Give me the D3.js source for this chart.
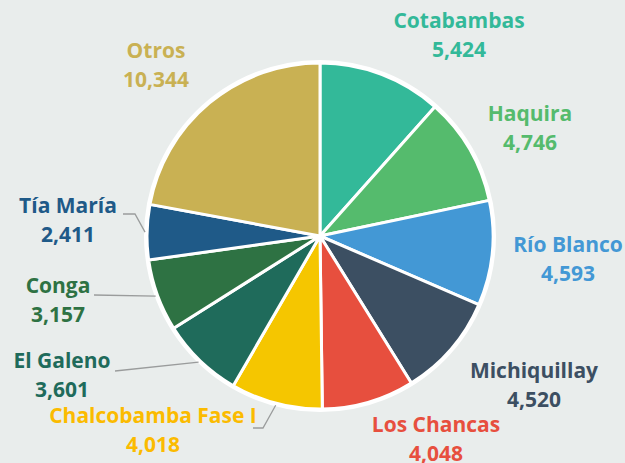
<!DOCTYPE html>
<html>
<head>
<meta charset="utf-8">
<script src="https://cdn.jsdelivr.net/npm/d3@7"></script>
<style>
  html, body { margin: 0; padding: 0; background: #e9edec; }
  svg { display: block; }
  .lbl { font-family: "Open Sans", sans-serif; font-weight: 700; font-size: 21px; }
</style>
</head>
<body>
<div id="chart"></div>
<script>
// data
const projects = ["Cotabambas", "Haquira", "Río Blanco", "Michiquillay", "Los Chancas",
                  "Chalcobamba Fase I", "El Galeno", "Conga", "Tía María", "Otros"];
const values = [5424, 4746, 4593, 4520, 4048, 4018, 3601, 3157, 2411, 10344];
const colors = ["#33b999", "#55bb6d", "#4398d5", "#3c4f62", "#e74f3e",
                "#f5c600", "#1f6b5b", "#2e7243", "#1f5a88", "#c9b153"];
const textColors = ["#33b999", "#55bb6d", "#4398d5", "#3c4f62", "#e74f3e",
                    "#fbbb00", "#1f6b5b", "#2e7243", "#1f5a88", "#c9b153"];

// label placement (centre x, name baseline y), leader elbow if any
const labelLayout = [
    { x: 459, y: 28 },
    { x: 530, y: 121 },
    { x: 568, y: 252 },
    { x: 534, y: 378 },
    { x: 436, y: 432 },
    { x: 153, y: 423, line: [[253, 428], [263, 428]] },
    { x: 62, y: 368, line: [[115, 371]] },
    { x: 58, y: 293, line: [[94, 295]] },
    { x: 68, y: 213, line: [[123, 214], [135, 214]] },
    { x: 156, y: 58 }
];

const width = 625, height = 463;
const cx = 320, cy = 236, radius = 173;
const lineH = 29;

const svg = d3.select("#chart")
    .append("svg")
    .attr("width", width)
    .attr("height", height);

const g = svg.append("g").attr("transform", `translate(${cx},${cy})`);

const pie = d3.pie().sort(null).value(d => d.value);
const arc = d3.arc().innerRadius(0).outerRadius(radius);

const rows = projects.map((p, i) => ({ name: p, value: values[i], i }));
const arcs = pie(rows);

// white rim round the pie
g.append("circle")
    .attr("r", radius + 1.5)
    .attr("fill", "none")
    .attr("stroke", "#fff")
    .attr("stroke-width", 3);

g.selectAll("path.slice")
    .data(arcs)
    .join("path")
    .attr("class", "slice")
    .attr("d", arc)
    .attr("fill", d => colors[d.data.i])
    .attr("stroke", "#fff")
    .attr("stroke-width", 3)
    .attr("stroke-linejoin", "round");

// leader lines, ending at the slice mid angle on the rim
const fmt = d3.format(",");
arcs.forEach(d => {
    const lay = labelLayout[d.data.i];
    if (!lay.line) return;
    const a = (d.startAngle + d.endAngle) / 2;
    const end = [cx + Math.sin(a) * (radius + 2), cy - Math.cos(a) * (radius + 2)];
    const pts = lay.line.concat([end]);
    svg.append("path")
        .attr("d", d3.line()(pts))
        .attr("fill", "none")
        .attr("stroke", "#9a9c9c")
        .attr("stroke-width", 1.3);
});

const labels = svg.append("g");
arcs.forEach(d => {
    const lay = labelLayout[d.data.i];
    const t = labels.append("text")
        .attr("class", "lbl")
        .attr("text-anchor", "middle")
        .attr("fill", textColors[d.data.i]);
    t.append("tspan").attr("x", lay.x).attr("y", lay.y).text(d.data.name);
    t.append("tspan").attr("x", lay.x).attr("y", lay.y + lineH).text(fmt(d.data.value));
});
</script>
</body>
</html>
